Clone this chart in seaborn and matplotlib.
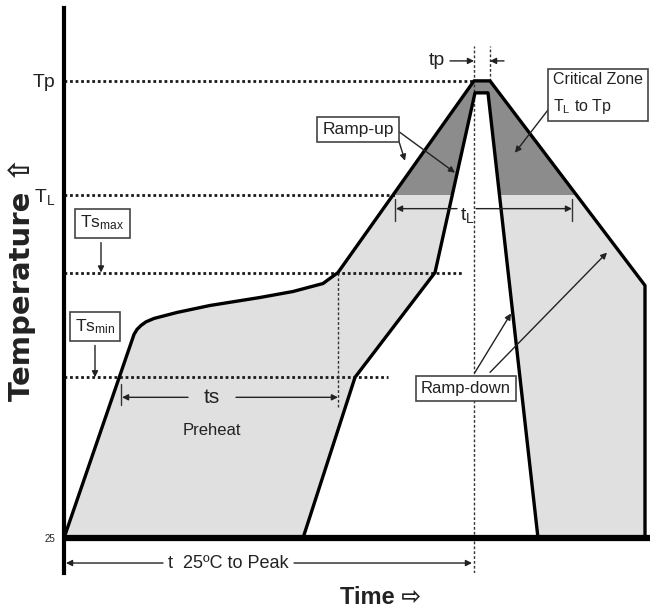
import numpy as np
import pandas as pd
import matplotlib
matplotlib.use("Agg")
import matplotlib.pyplot as plt
from matplotlib.patches import Rectangle
import seaborn as sns

# ---- schematic data (time units, temperature units) ----
T25, TSMIN, TSMAX, TL, TP = 25, 105.5, 158, 197, 254
outer_t = [0, 35, 36.5, 38.5, 41, 45, 56.5, 73, 98, 114.5, 129.5, 137, 205, 213, 290.5, 290.5]
outer_T = [25, 127, 129.5, 131.5, 133.3, 135, 138, 141.5, 145.5, 148.5, 152.5, 158, 254, 254, 151.5, 25]
inner_t = [119.5, 145.5, 185.5, 205.5, 212, 237]
inner_T = [25, 105.5, 158, 248, 248, 25]
ytick_vals = [T25, TL, TP]
ytick_labels = ["25", "$\\mathregular{T_L}$", "Tp"]

sns.set_theme(style="white")
FAM = ["Liberation Sans", "DejaVu Sans"]
plt.rcParams["font.family"] = FAM
plt.rcParams["mathtext.fontset"] = "custom"
plt.rcParams["mathtext.rm"] = "Liberation Sans"

fig = plt.figure(figsize=(6.54, 6.13), dpi=100)
ax = fig.add_axes([64/654, 40/613, 590/654, 565/613])
ax.set_xlim(0, 295)
ax.set_ylim(7.5, 290.5)

LIGHT, DARK = "#e0e0e0", "#8c8c8c"
TXT = "#222222"

# fills
ax.fill(outer_t, outer_T, color=LIGHT, lw=0, zorder=1)
dark = ax.fill(outer_t, outer_T, color=DARK, lw=0, zorder=2)[0]
clip = Rectangle((0, TL), 300, 200, transform=ax.transData)
dark.set_clip_path(clip)
ax.fill(inner_t, inner_T, color="white", lw=0, zorder=3)

# profile lines
df_o = pd.DataFrame({"t": outer_t, "T": outer_T})
df_i = pd.DataFrame({"t": inner_t, "T": inner_T})
sns.lineplot(data=df_o, x="t", y="T", sort=False, estimator=None, color="black", lw=2.4, ax=ax, zorder=6)
sns.lineplot(data=df_i, x="t", y="T", sort=False, estimator=None, color="black", lw=2.4, ax=ax, zorder=6)

# bottom baseline
ax.plot([0, 293], [T25, T25], color="black", lw=4.5, solid_capstyle="butt", zorder=7)

# dotted reference lines
dot = dict(color="#1a1a1a", lw=2.0, linestyle=(0, (1, 1)), zorder=5)
ax.plot([0, 205], [TP, TP], **dot)
ax.plot([0, 165.5], [TL, TL], **dot)
ax.plot([0, 199], [TSMAX, TSMAX], **dot)
ax.plot([0, 162], [TSMIN, TSMIN], **dot)
thin = dict(color="#333333", lw=1.0, linestyle=(0, (2, 1.5)), zorder=5)
ax.plot([205, 205], [7.5, 271.5], **thin)
ax.plot([213, 213], [254, 271.5], **thin)
ax.plot([137, 137], [158, 90.5], **thin)

def arrow(x0, y0, x1, y1):
    ax.annotate("", xy=(x1, y1), xytext=(x0, y0),
                arrowprops=dict(arrowstyle="-|>", lw=1.0, color="#222222",
                                mutation_scale=9, shrinkA=0, shrinkB=0),
                zorder=8)

def tick(x, y0, y1):
    ax.plot([x, x], [y0, y1], color="#333333", lw=1.0, zorder=8)

bx = dict(boxstyle="square,pad=0.3", fc="white", ec="#444444", lw=1.2)

# tp
ax.text(186.5, 264, "tp", fontsize=14, color=TXT, ha="center", va="center")
arrow(193, 264, 205, 264)
arrow(220, 264, 213, 264)

# Ramp-up
ax.text(147, 229.5, "Ramp-up", fontsize=12.5, color=TXT, ha="center", va="center", bbox=bx, zorder=9)
arrow(165.5, 230, 170.5, 214)
arrow(165.5, 230, 195.5, 208)

# Critical zone
ax.text(244.5, 247.5, "Critical Zone\n$\\mathregular{T_L}$ to Tp", fontsize=11.5, color=TXT,
        ha="left", va="center", linespacing=1.75,
        bbox=dict(boxstyle="square,pad=0.3", fc="white", ec="#444444", lw=1.2), zorder=9)
arrow(245.5, 244, 225.5, 218)

# tL
ax.text(201.5, 186.5, "$\\mathregular{t_L}$", fontsize=14, color=TXT, ha="center", va="center", zorder=9)
arrow(196.5, 190, 166, 190)
arrow(206, 190, 254, 190)
tick(165.5, 184, 195)
tick(254, 184, 195)

# Ts boxes
ax.text(19.25, 182.75, "Ts$\\mathregular{_{max}}$", fontsize=12.5, color=TXT, ha="center", va="center", bbox=bx, zorder=9)
arrow(18.5, 173, 18.5, TSMAX)
ax.text(15.5, 131, "Ts$\\mathregular{_{min}}$", fontsize=12.5, color=TXT, ha="center", va="center", bbox=bx, zorder=9)
arrow(15.5, 121.5, 15.5, TSMIN)

# ts / Preheat
ax.text(74, 95.5, "ts", fontsize=15, color=TXT, ha="center", va="center", zorder=9)
ax.text(74, 79, "Preheat", fontsize=12, color=TXT, ha="center", va="center", zorder=9)
arrow(62, 95.5, 29, 95.5)
arrow(86, 95.5, 137, 95.5)
tick(28.5, 91.5, 102)

# Ramp-down
ax.text(200.75, 99.75, "Ramp-down", fontsize=12, color=TXT, ha="center", va="center", bbox=bx, zorder=9)
arrow(205.5, 108, 223.5, 137.5)
arrow(213, 108, 271.5, 168)

# t 25C to peak
ax.text(82, 12.5, "t  25ºC to Peak", fontsize=13, color=TXT, ha="center", va="center", zorder=9)
arrow(49.5, 12.5, 1, 12.5)
arrow(115, 12.5, 204, 12.5)

# axes styling
for s in ["top", "right", "bottom"]:
    ax.spines[s].set_visible(False)
ax.spines["left"].set_linewidth(3)
ax.spines["left"].set_color("black")
ax.spines["left"].set_zorder(10)
ax.set_xticks([])
ax.set_yticks(ytick_vals)
ax.set_yticklabels(ytick_labels)
ax.tick_params(axis="y", length=0, pad=6, colors=TXT)
sizes = [7, 14, 14]
for lab, s in zip(ax.get_yticklabels(), sizes):
    lab.set_fontsize(s)
ax.set_xlabel("")
ax.set_ylabel("")
ax.patch.set_alpha(0)

fig.text(22/654, 1 - 279/613, "Temperature ⇧", rotation=90, fontsize=21, fontweight="bold",
         ha="center", va="center", color=TXT, family=["DejaVu Sans"])
fig.text(380/654, 1 - 598/613, "Time ⇨", fontsize=17, fontweight="bold",
         ha="center", va="center", color=TXT, family=["Liberation Sans", "DejaVu Sans"])

fig.savefig("out.png", dpi=100)
